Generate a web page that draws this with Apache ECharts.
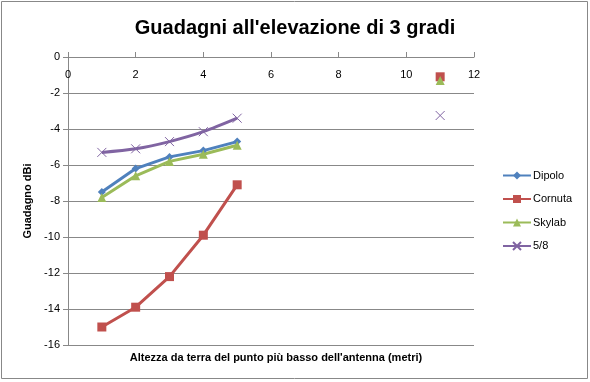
<!DOCTYPE html>
<html><head><meta charset="utf-8">
<script src="https://cdn.jsdelivr.net/npm/echarts@6/dist/echarts.min.js"></script>
<style>html,body{margin:0;padding:0;background:#fff}#c{width:590px;height:382px}</style>
</head><body><div id="c"></div>
<script>
const xs = [1, 2, 3, 4, 5, 11];
const dipolo = [-7.5, -6.2, -5.55, -5.2, -4.7, -1.2];
const cornuta = [-15.0, -13.9, -12.2, -9.9, -7.1, -1.1];
const skylab = [-7.8, -6.6, -5.8, -5.4, -4.9, -1.3];
const ottavi = [-5.3, -5.1, -4.7, -4.15, -3.4, -3.25];
const names = ['Dipolo', 'Cornuta', 'Skylab', '5/8'];
const colors = ['#4F81BD', '#C0504D', '#9BBB59', '#8064A2'];

function build(vals) {
  const d = [];
  for (let i = 0; i < xs.length; i++) {
    if (i === 5) d.push([8, '-']);
    d.push([xs[i], vals[i]]);
  }
  return d;
}
const font = "'Liberation Sans', Arial, sans-serif";
const crossPath = 'path://M0,0L10,10M10,0L0,10';
const chart = echarts.init(document.getElementById('c'));
const symbols = ['diamond', 'rect', 'triangle', crossPath];
const sizes = [8, 9, 9, 9];
const allVals = [dipolo, cornuta, skylab, ottavi];
chart.setOption({
  animation: false,
  title: [
    {text: "Guadagni all'elevazione di 3 gradi", left: 'center', top: 13,
     textStyle: {fontFamily: font, fontSize: 20, fontWeight: 'bold', color: '#000'}},
    {text: "Altezza da terra del punto più basso dell'antenna (metri)", left: 271, textAlign: 'center', top: 347,
     textStyle: {fontFamily: font, fontSize: 11, fontWeight: 'bold', color: '#000'}}
  ],
  graphic: [{type: 'rect', shape: {x: 1.5, y: 1.5, width: 586, height: 377},
    style: {fill: 'none', stroke: '#888', lineWidth: 1}}],
  legend: {orient: 'vertical', left: 502, top: 170, padding: 0, itemWidth: 28, itemHeight: 10, itemGap: 12.5,
    textStyle: {fontFamily: font, fontSize: 11, color: '#000', padding: [0, 0, 0, -3]}, data: names},
  grid: {left: 68, right: 116, top: 57, bottom: 37},
  xAxis: {type: 'value', min: 0, max: 12, interval: 2, position: 'top',
    axisLine: {onZero: false, lineStyle: {color: '#888'}},
    axisTick: {show: true, length: 5, lineStyle: {color: '#888'}},
    axisLabel: {inside: true, margin: 12, fontFamily: font, fontSize: 11, color: '#000'},
    splitLine: {show: false}},
  yAxis: {type: 'value', min: -16, max: 0, interval: 2,
    name: 'Guadagno dBi', nameLocation: 'middle', nameGap: 33, nameRotate: 90,
    nameTextStyle: {fontFamily: font, fontSize: 11, fontWeight: 'bold', color: '#000'},
    axisLine: {show: true, lineStyle: {color: '#888'}},
    axisTick: {show: true, length: 5, lineStyle: {color: '#888'}},
    axisLabel: {fontFamily: font, fontSize: 11, color: '#000', margin: 8},
    splitLine: {show: true, lineStyle: {color: '#888', width: 1}}},
  series: names.map((n, i) => ({
    name: n, type: 'line', data: build(allVals[i]), connectNulls: false,
    symbol: symbols[i], symbolSize: sizes[i], smooth: i === 3 ? 0.3 : false,
    lineStyle: {color: colors[i], width: 3},
    itemStyle: i === 3 ? {color: colors[i], borderColor: colors[i], borderWidth: 1} : {color: colors[i]}
  }))
});
</script></body></html>
